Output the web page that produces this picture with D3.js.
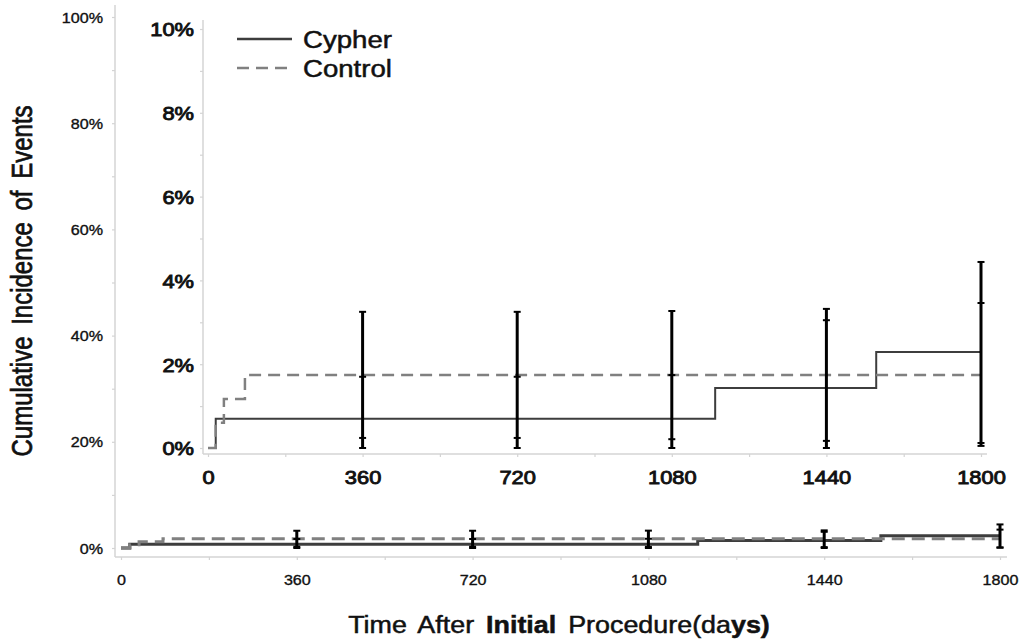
<!DOCTYPE html>
<html>
<head>
<meta charset="utf-8">
<script src="https://cdn.jsdelivr.net/npm/d3@7"></script>
<style>
  html, body { margin: 0; padding: 0; background: #fff; }
  svg { display: block; font-family: "Liberation Sans", Arial, sans-serif; }
</style>
</head>
<body>
<svg id="chart" width="1025" height="640"></svg>
<script>
// ---------- data ----------
const cypherDays = [0, 18, 1181, 1556, 1800];
const cypherPct  = [0, 0.70, 1.43, 2.29, 2.29];
const controlDays = [0, 18, 37, 86, 1800];
const controlPct  = [0, 0.60, 1.17, 1.74, 1.74];

const ciDays    = [360, 720, 1080, 1440, 1800];
const cypherLo  = [0, 0, 0, 0.17, 0.12];
const cypherHi  = [1.70, 1.70, 1.74, 3.05, 4.44];
const controlLo = [0.24, 0.24, 0.21, 0, 0.05];
const controlHi = [3.25, 3.25, 3.27, 3.32, 3.46];

const outerYTicks = [0, 10, 20, 30, 40, 50, 60, 70, 80, 90, 100];
const insetYTicks = [0, 1, 2, 3, 4, 5, 6, 7, 8, 9, 10];
const xTicks = [0, 180, 360, 540, 720, 900, 1080, 1260, 1440, 1620, 1800];

const seriesNames = ["Cypher", "Control"];

// ---------- setup ----------
const svg = d3.select("#chart");
const SX = 1.15; // horizontal text stretch of the reference
const AXIS = "#d4d4d4";
const SOLID = "#3d3d3d";
const DASH = "#808080";
const INK = "#111";

const cypher = cypherDays.map((d, i) => ({ d, v: cypherPct[i] }));
const control = controlDays.map((d, i) => ({ d, v: controlPct[i] }));
const cis = ciDays.map((d, i) => ({ d, lo1: cypherLo[i], hi1: cypherHi[i], lo2: controlLo[i], hi2: controlHi[i] }));

function drawPanel(opts) {
  const { x, y, axX, axYtop, axYbot, axXright, yTicks, yLabelEvery, yFmt,
          fontSize, fontWeight, textStroke, xLabelDy, yLabelPad, lineW, dashW, dash, barW, capW } = opts;
  const g = svg.append("g");

  // axis lines
  g.append("line").attr("x1", axX).attr("x2", axX).attr("y1", axYtop).attr("y2", axYbot)
    .attr("stroke", AXIS).attr("stroke-width", 1.5);
  g.append("line").attr("x1", axX).attr("x2", axXright).attr("y1", axYbot).attr("y2", axYbot)
    .attr("stroke", AXIS).attr("stroke-width", 1.5);

  // y axis
  const yAxis = d3.axisLeft(y).tickValues(yTicks).tickSize(3).tickPadding(0)
    .tickFormat(d => (d % yLabelEvery === 0 ? yFmt(d) : ""));
  const ya = g.append("g").attr("transform", `translate(${axX},0)`).call(yAxis);
  ya.select(".domain").remove();
  ya.selectAll(".tick line").attr("stroke", AXIS).attr("stroke-width", 1.2);
  ya.selectAll(".tick text")
    .attr("x", null).attr("dy", null)
    .attr("transform", `translate(${-yLabelPad},${fontSize * 0.36}) scale(${SX},1)`)
    .attr("fill", INK).attr("stroke", INK).attr("stroke-width", textStroke)
    .attr("font-size", fontSize).attr("font-weight", fontWeight)
    .attr("font-family", "Liberation Sans, Arial, sans-serif");

  // x axis
  const xAxis = d3.axisBottom(x).tickValues(xTicks).tickSize(3).tickPadding(0)
    .tickFormat(d => (d % 360 === 0 ? d : ""));
  const xa = g.append("g").attr("transform", `translate(0,${axYbot})`).call(xAxis);
  xa.select(".domain").remove();
  xa.selectAll(".tick line").attr("stroke", AXIS).attr("stroke-width", 1.2);
  xa.selectAll(".tick text")
    .attr("y", null).attr("dy", null)
    .attr("transform", `translate(0,${xLabelDy}) scale(${SX},1)`)
    .attr("fill", INK).attr("stroke", INK).attr("stroke-width", textStroke)
    .attr("font-size", fontSize).attr("font-weight", fontWeight)
    .attr("font-family", "Liberation Sans, Arial, sans-serif");

  // step lines
  const line = d3.line().x(p => x(p.d)).y(p => y(p.v)).curve(d3.curveStepAfter);
  g.append("path").datum(cypher).attr("d", line).attr("fill", "none")
    .attr("stroke", SOLID).attr("stroke-width", lineW);
  g.append("path").datum(control).attr("d", line).attr("fill", "none")
    .attr("stroke", DASH).attr("stroke-width", dashW).attr("stroke-dasharray", dash);

  // error bars
  const eb = g.append("g").attr("stroke", "#000");
  cis.forEach(c => {
    const lo = Math.min(c.lo1, c.lo2), hi = Math.max(c.hi1, c.hi2);
    eb.append("line").attr("x1", x(c.d)).attr("x2", x(c.d)).attr("y1", y(lo)).attr("y2", y(hi))
      .attr("stroke-width", barW);
    [c.lo1, c.hi1, c.lo2, c.hi2].forEach(v => {
      eb.append("line").attr("x1", x(c.d) - capW / 2).attr("x2", x(c.d) + capW / 2)
        .attr("y1", y(v)).attr("y2", y(v)).attr("stroke-width", 2);
    });
  });
  return g;
}

// ---------- outer panel ----------
const xOuter = d3.scaleLinear().domain([0, 1800]).range([121, 1000]);
const yOuter = d3.scaleLinear().domain([0, 100]).range([548, 17]);
drawPanel({
  x: xOuter, y: yOuter, axX: 115, axYtop: 5, axYbot: 557, axXright: 1007,
  yTicks: outerYTicks, yLabelEvery: 20, yFmt: d => d + "%",
  fontSize: 14, fontWeight: "normal", textStroke: 0.35, xLabelDy: 28, yLabelPad: 12,
  lineW: 3, dashW: 3, dash: "13,7", barW: 3, capW: 7
});

// ---------- inset panel ----------
const xInset = d3.scaleLinear().domain([0, 1800]).range([208, 981]);
const yInset = d3.scaleLinear().domain([0, 10]).range([448, 29]);
drawPanel({
  x: xInset, y: yInset, axX: 203, axYtop: 20, axYbot: 454, axXright: 987,
  yTicks: insetYTicks, yLabelEvery: 2, yFmt: d => d + "%",
  fontSize: 19, fontWeight: "normal", textStroke: 0.9, xLabelDy: 30, yLabelPad: 9,
  lineW: 2, dashW: 2.5, dash: "12,7", barW: 3, capW: 7
});

// ---------- legend ----------
const legend = svg.append("g");
[0, 1].forEach(i => {
  const yy = 39 + i * 29;
  legend.append("line").attr("x1", 237).attr("x2", 292).attr("y1", yy).attr("y2", yy)
    .attr("stroke", i === 0 ? SOLID : DASH).attr("stroke-width", 2.5)
    .attr("stroke-dasharray", i === 0 ? null : "12,7");
  legend.append("text").attr("transform", `translate(303,${yy + 8.5}) scale(${SX},1)`)
    .attr("font-size", 24).attr("fill", INK).attr("stroke", INK).attr("stroke-width", 0.5)
    .text(seriesNames[i]);
});

// ---------- titles ----------
const xt = svg.append("text").attr("transform", `translate(559,633) scale(1.12,1)`)
  .attr("text-anchor", "middle").attr("font-size", 24).attr("fill", INK)
  .attr("stroke", INK).attr("stroke-width", 0.5)
  .attr("word-spacing", 4);
xt.append("tspan").text("Time After ");
xt.append("tspan").attr("font-weight", "bold").text("Initial");
xt.append("tspan").text(" Procedure(da");
xt.append("tspan").attr("font-weight", "bold").text("ys)");

svg.append("text").attr("transform", `translate(32,281) scale(1.2,1) rotate(-90)`)
  .attr("text-anchor", "middle").attr("font-size", 24).attr("fill", INK)
  .attr("stroke", INK).attr("stroke-width", 0.6)
  .attr("word-spacing", 5)
  .text("Cumulative Incidence of Events");
</script>
</body>
</html>
